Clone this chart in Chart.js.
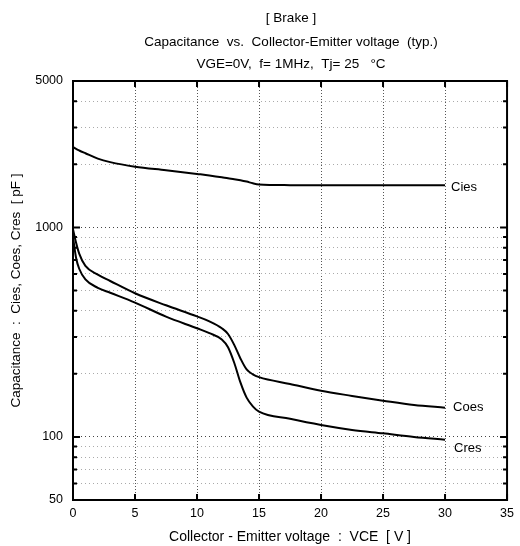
<!DOCTYPE html>
<html lang="en">
<head>
  <meta charset="UTF-8" />
  <title>Capacitance vs. Collector-Emitter voltage</title>
  <style>
    body, html { margin: 0; padding: 0; background: #fff; }
    #wrap { width: 520px; height: 546px; }
  </style>
  <script src="https://cdn.jsdelivr.net/npm/chart.js"></script>
</head>
<body>
<div id="wrap"><canvas id="capChart" width="520" height="546"></canvas></div>

<script>
  // values (VCE in V, capacitance in pF)
  const voltage = [0, 0.25, 0.5, 1, 2, 3, 5, 7.5, 10, 11, 12, 12.5, 13, 13.5, 14, 14.5, 15, 17.5, 20, 22.5, 25, 27.5, 30];
  const cies = [2420, 2370, 2330, 2260, 2130, 2050, 1950, 1875, 1800, 1770, 1735, 1715, 1700, 1680, 1655, 1625, 1605, 1592, 1590, 1590, 1590, 1590, 1590];
  const coes = [980, 845, 750, 655, 595, 555, 485, 425, 376, 356, 330, 310, 275, 237, 210, 199, 193, 179, 166, 157, 149, 142, 138];
  const cres = [900, 715, 635, 565, 515, 488, 438, 375, 330, 313, 292, 268, 226, 182, 154, 140, 132, 122, 114, 108, 104, 100, 97];
  const seriesNames = ['Cies', 'Coes', 'Cres'];

  const xTicks = [0, 5, 10, 15, 20, 25, 30, 35];
  const yTicks = [50, 60, 70, 80, 90, 100, 200, 300, 400, 500, 600, 700, 800, 900, 1000, 2000, 3000, 4000, 5000];
  const yLabeled = [50, 100, 1000, 5000];
  const yMajor = [100, 1000];

  const titleLines = [
    '[ Brake ]',
    'Capacitance  vs.  Collector-Emitter voltage  (typ.)',
    'VGE=0V,  f= 1MHz,  Tj= 25   \u00B0C'
  ];

  const FONT = '"Liberation Sans", Arial, sans-serif';

  const toPoints = arr => arr.map((v, i) => ({ x: voltage[i], y: v }));
  const seriesData = [cies, coes, cres];

  // titles, frame, inward tick marks and curve names
  const decor = {
    id: 'decor',
    afterDraw(chart) {
      const { ctx, chartArea: a, scales: { x, y } } = chart;
      ctx.save();
      ctx.fillStyle = '#000';
      ctx.font = '13.5px ' + FONT;
      ctx.textAlign = 'center';
      ctx.textBaseline = 'middle';
      const ty = [18, 42, 64];
      titleLines.forEach((t, i) => ctx.fillText(t, 291, ty[i]));

      ctx.strokeStyle = '#000';
      ctx.setLineDash([]);
      ctx.lineWidth = 2;
      ctx.strokeRect(a.left, a.top, a.right - a.left, a.bottom - a.top);

      ctx.beginPath();
      yTicks.forEach(v => {
        const py = y.getPixelForValue(v);
        const len = yMajor.includes(v) ? 7 : 4;
        ctx.moveTo(a.left, py); ctx.lineTo(a.left + len, py);
        ctx.moveTo(a.right, py); ctx.lineTo(a.right - len, py);
      });
      xTicks.forEach(v => {
        const px = x.getPixelForValue(v);
        ctx.moveTo(px, a.top); ctx.lineTo(px, a.top + 6);
        ctx.moveTo(px, a.bottom); ctx.lineTo(px, a.bottom - 6);
      });
      ctx.stroke();

      ctx.font = '13px ' + FONT;
      ctx.textAlign = 'left';
      const offs = [[6, 2], [8, 0], [9, 9]];
      chart.data.datasets.forEach((ds, i) => {
        const last = ds.data[ds.data.length - 1];
        ctx.fillText(ds.label, x.getPixelForValue(last.x) + offs[i][0], y.getPixelForValue(last.y) + offs[i][1]);
      });
      ctx.restore();
    }
  };

  new Chart(document.getElementById('capChart'), {
    type: 'line',
    data: {
      datasets: seriesData.map((arr, i) => ({
        label: seriesNames[i],
        data: toPoints(arr),
        borderColor: '#000',
        borderWidth: 2,
        pointRadius: 0,
        fill: false,
        cubicInterpolationMode: 'monotone'
      }))
    },
    options: {
      responsive: false,
      animation: false,
      layout: { padding: { top: 81, right: 7, left: 0, bottom: 0 } },
      plugins: {
        legend: { display: false },
        tooltip: { enabled: false }
      },
      scales: {
        x: {
          type: 'linear',
          min: 0,
          max: 35,
          afterBuildTicks: s => { s.ticks = xTicks.map(v => ({ value: v })); },
          afterFit: s => { s.height = 46; },
          grid: { color: '#555', lineWidth: 1, drawTicks: false },
          border: { display: false, dash: [1, 2] },
          ticks: { color: '#000', font: { size: 12.5, family: FONT }, padding: 6, maxRotation: 0 },
          title: {
            display: true,
            text: 'Collector - Emitter voltage  :  VCE  [ V ]',
            color: '#000',
            font: { size: 14, family: FONT },
            padding: { top: 4, bottom: 0 }
          }
        },
        y: {
          type: 'logarithmic',
          min: 50,
          max: 5000,
          afterBuildTicks: s => { s.ticks = yTicks.map(v => ({ value: v })); },
          afterFit: s => { s.width = 73; },
          grid: {
            color: c => yMajor.includes(c.tick.value) ? '#444' : '#aaa',
            lineWidth: 1,
            drawTicks: false
          },
          border: { display: false, dash: [1, 3] },
          ticks: {
            color: '#000',
            font: { size: 12.5, family: FONT },
            padding: 10,
            autoSkip: false,
            callback: v => yLabeled.includes(v) ? String(v) : ''
          },
          title: {
            display: true,
            text: 'Capacitance  :  Cies, Coes, Cres  [ pF ]',
            color: '#000',
            font: { size: 13.5, family: FONT },
            padding: { top: 8, bottom: 2 }
          }
        }
      }
    },
    plugins: [decor]
  });
</script>
</body>
</html>
